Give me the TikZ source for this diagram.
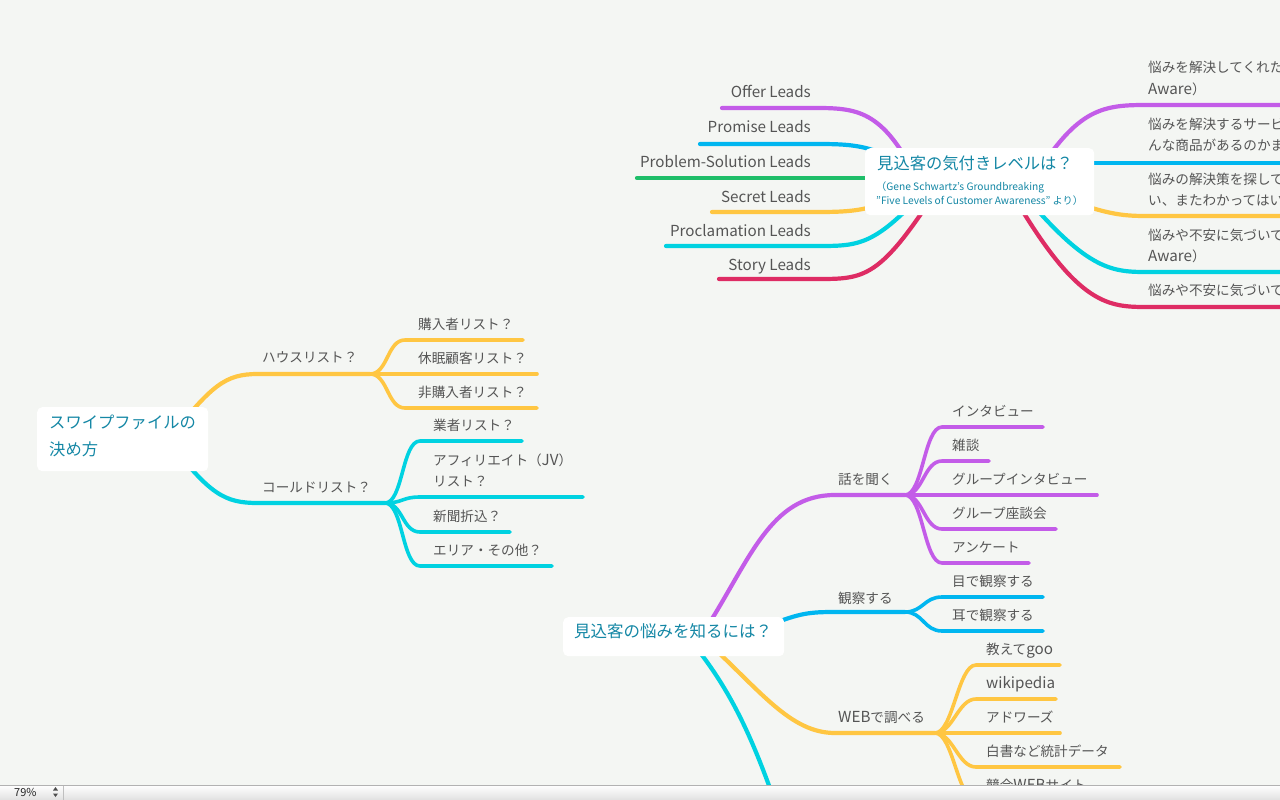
\documentclass[tikz,border=0pt]{standalone}
\usepackage{fontspec}
\setmainfont{Noto Sans CJK JP}
\definecolor{bg}{RGB}{244,246,243}
\definecolor{cpur}{RGB}{195,92,232}
\definecolor{cblu}{RGB}{0,182,240}
\definecolor{cgrn}{RGB}{30,190,105}
\definecolor{cyel}{RGB}{255,198,66}
\definecolor{ccya}{RGB}{0,210,225}
\definecolor{ccri}{RGB}{222,44,100}
\definecolor{txt}{RGB}{85,85,85}
\definecolor{ttl}{RGB}{20,135,165}
\newcommand\latw[1]{{\fontsize{15.2}{21}\selectfont #1}}
\newcommand\mmleaf[8]{%
  \coordinate (#1-s) at (#4,#6);
  \coordinate (#1-e) at (#5,#6);
  \draw[leafline,#2] (#3) .. controls +(18,0) and +(-18,0) .. (#1-s) -- (#1-e);
  \node[lbl] (#1) at (#7,#6-11) {#8};
}
\begin{document}
\begin{tikzpicture}[x=1pt,y=-1pt,
  brline/.style={line width=4.2pt,line cap=round},
  leafline/.style={line width=3.6pt,line cap=round},
  lbl/.style={anchor=base west,inner sep=0pt,text=txt,font=\fontsize{13.6}{21}\selectfont},
  lblr/.style={lbl,anchor=base east,font=\fontsize{15.2}{21}\selectfont},
  rootbox/.style={fill=white,rounded corners=5pt,anchor=north west,inner sep=0pt},
  ttlf/.style={anchor=base west,inner sep=0pt,text=ttl}]
\useasboundingbox (0,0) rectangle (1280,800);
\fill[bg] (0,0) rectangle (1280,800);
\begin{scope}
\clip (0,0) rectangle (1280,785);

% ---------- top root: connectors ----------
\coordinate (tA) at (920,185);
\coordinate (tB) at (925,180);
\coordinate (tC) at (925,178);
\coordinate (tD) at (930,185);
\coordinate (tE) at (940,185);
\coordinate (offS) at (817,108);   \coordinate (offE) at (722,108);
\coordinate (proS) at (817,144);   \coordinate (proE) at (700,144);
\coordinate (psE) at (637,178);
\coordinate (secS) at (817,212);   \coordinate (secE) at (712,212);
\coordinate (pclS) at (817,246);   \coordinate (pclE) at (666,246);
\coordinate (stoS) at (817,279);   \coordinate (stoE) at (719,279);
\draw[brline,cpur] (tA) .. controls (885,112) and (860,108) .. (offS) -- (offE);
\draw[brline,cblu] (tB) .. controls (880,146) and (860,144) .. (proS) -- (proE);
\draw[brline,cgrn] (tC) -- (psE);
\draw[brline,cyel] (tB) .. controls (880,210) and (860,212) .. (secS) -- (secE);
\draw[brline,ccya] (tD) .. controls (875,246) and (860,246) .. (pclS) -- (pclE);
\draw[brline,ccri] (tE) .. controls (880,279) and (865,279) .. (stoS) -- (stoE);

\coordinate (rA) at (1030,185);
\coordinate (rB) at (1030,163);
\coordinate (rC) at (1040,190);
\coordinate (rD) at (1020,190);
\coordinate (rE) at (1010,190);
\coordinate (r1S) at (1145,105); \coordinate (r1E) at (1290,105);
\coordinate (r2E) at (1290,163);
\coordinate (r3S) at (1145,216); \coordinate (r3E) at (1290,216);
\coordinate (r4S) at (1145,272); \coordinate (r4E) at (1290,272);
\coordinate (r5S) at (1145,307); \coordinate (r5E) at (1290,307);
\draw[brline,cpur] (rA) .. controls (1075,110) and (1100,105) .. (r1S) -- (r1E);
\draw[brline,cblu] (rB) -- (r2E);
\draw[brline,cyel] (rC) .. controls (1100,212) and (1115,216) .. (r3S) -- (r3E);
\draw[brline,ccya] (rD) .. controls (1085,268) and (1110,272) .. (r4S) -- (r4E);
\draw[brline,ccri] (rE) .. controls (1075,302) and (1105,307) .. (r5S) -- (r5E);

% top root box and texts
\node[rootbox,minimum width=229pt,minimum height=67pt] (topbox) at (865,148) {};
\node[ttlf,font=\fontsize{16.3}{20}\selectfont] (toptitle) at (877,169) {見込客の気付きレベルは？};
\node[ttlf,font=\fontsize{10.2}{14}\selectfont] (topsub1) at (876,190) {（Gene Schwartz's Groundbreaking};
\node[ttlf,font=\fontsize{10.2}{14}\selectfont] (topsub2) at (876,204) {"Five Levels of Customer Awareness" より）};

\node[lblr] (offer) at (811,98) {Offer Leads};
\node[lblr] (promise) at (811,132) {Promise Leads};
\node[lblr] (probsol) at (811,167) {Problem-Solution Leads};
\node[lblr] (secret) at (811,202) {Secret Leads};
\node[lblr] (procl) at (811,236) {Proclamation Leads};
\node[lblr] (story) at (811,270) {Story Leads};

\node[lbl,align=left] (aw1) at (1148,94) {悩みを解決してくれた商品\\\latw{Aware}）};
\node[lbl,align=left] (aw2) at (1148,150) {悩みを解決するサービス\\んな商品があるのかまで};
\node[lbl,align=left] (aw3) at (1148,205) {悩みの解決策を探してい\\い、またわかってはいな};
\node[lbl,align=left] (aw4) at (1148,261) {悩みや不安に気づいてい\\\latw{Aware}）};
\node[lbl] (aw5) at (1148,295) {悩みや不安に気づいてい};

% ---------- left root ----------
\coordinate (lA) at (168,440);
\coordinate (hS) at (258,374); \coordinate (J1) at (370,374);
\coordinate (cS) at (258,503); \coordinate (J2) at (385,503);
\draw[brline,cyel] (lA) .. controls (212,385) and (225,374) .. (hS) -- (J1);
\draw[brline,ccya] (lA) .. controls (210,495) and (225,503) .. (cS) -- (J2);
\node[rootbox,minimum width=171pt,minimum height=64pt] (leftbox) at (37,407) {};
\node[ttlf,align=left,font=\fontsize{16.3}{27}\selectfont] (lefttitle) at (49,455) {スワイプファイルの\\決め方};
\node[lbl] (house) at (262,362) {ハウスリスト？};
\node[lbl] (cold) at (262,492) {コールドリスト？};

\mmleaf{buy}{cyel}{J1}{405}{523}{340}{418}{購入者リスト？}
\mmleaf{dorm}{cyel}{J1}{405}{537}{374}{418}{休眠顧客リスト？}
\mmleaf{nonbuy}{cyel}{J1}{405}{537}{408}{418}{非購入者リスト？}

\mmleaf{vendor}{ccya}{J2}{420}{522}{441}{433}{業者リスト？}
\coordinate (aff-s) at (420,497); \coordinate (aff-e) at (583,497);
\draw[leafline,ccya] (J2) .. controls +(18,0) and +(-18,0) .. (aff-s) -- (aff-e);
\node[lbl,align=left] (aff) at (433,486) {アフィリエイト（\latw{JV}）\\リスト？};
\mmleaf{news}{ccya}{J2}{420}{510}{532}{433}{新聞折込？}
\mmleaf{area}{ccya}{J2}{420}{552}{566}{433}{エリア・その他？}

% ---------- bottom root ----------
\coordinate (bA) at (705,630);
\coordinate (bB) at (770,625);
\coordinate (bC) at (705,640);
\coordinate (bD) at (690,640);
\coordinate (kS) at (835,495); \coordinate (J3) at (905,495);
\coordinate (oS) at (835,612); \coordinate (J4) at (905,612);
\coordinate (wS) at (835,733); \coordinate (J5) at (935,733);
\coordinate (cyE) at (785,830);
\draw[brline,cpur] (bA) .. controls (750,560) and (770,495) .. (kS) -- (J3);
\draw[brline,cblu] (bB) .. controls (800,613) and (810,612) .. (oS) -- (J4);
\draw[brline,cyel] (bC) .. controls (760,690) and (790,733) .. (wS) -- (J5);
\draw[brline,ccya] (bD) .. controls (740,700) and (760,760) .. (cyE);
\node[rootbox,minimum width=221pt,minimum height=39pt] (botbox) at (563,617) {};
\node[ttlf,font=\fontsize{16.5}{20}\selectfont] (bottitle) at (574,637) {見込客の悩みを知るには？};
\node[lbl] (listen) at (838,484) {話を聞く};
\node[lbl] (observe) at (838,603) {観察する};
\node[lbl] (web) at (838,722) {\latw{WEB}で調べる};

\mmleaf{iv}{cpur}{J3}{942}{1043}{427}{952}{インタビュー}
\mmleaf{chat}{cpur}{J3}{942}{989}{461}{952}{雑談}
\mmleaf{giv}{cpur}{J3}{942}{1097}{495}{952}{グループインタビュー}
\mmleaf{gdis}{cpur}{J3}{942}{1056}{529}{952}{グループ座談会}
\mmleaf{enq}{cpur}{J3}{942}{1029}{563}{952}{アンケート}

\mmleaf{eye}{cblu}{J4}{942}{1043}{597}{952}{目で観察する}
\mmleaf{ear}{cblu}{J4}{942}{1043}{631}{952}{耳で観察する}

\mmleaf{goo}{cyel}{J5}{976}{1060}{665}{986}{教えて\latw{goo}}
\mmleaf{wiki}{cyel}{J5}{976}{1056}{699}{986}{\latw{wikipedia}}
\mmleaf{adw}{cyel}{J5}{976}{1060}{733}{986}{アドワーズ}
\mmleaf{white}{cyel}{J5}{976}{1120}{767}{986}{白書など統計データ}
\mmleaf{comp}{cyel}{J5}{976}{1110}{801}{986}{競合\latw{WEB}サイト}
\end{scope}

% ---------- status bar ----------
\shade[top color=white,bottom color=black!12] (0,785) rectangle (1280,800);
\draw[black!30,line width=0.8pt] (0,785.4) -- (1280,785.4);
\coordinate (sepT) at (63,786); \coordinate (sepB) at (63,800);
\draw[black!25,line width=0.6pt] (sepT) -- (sepB);
\node[anchor=base west,inner sep=0pt,font=\fontsize{11}{12}\selectfont,text=black!85] (zoom) at (14,796.5) {79\%};
\fill[black!70] (53,790.5) -- (58,790.5) -- (55.5,787) -- cycle;
\fill[black!70] (53,793.5) -- (58,793.5) -- (55.5,797) -- cycle;
\end{tikzpicture}
\end{document}
